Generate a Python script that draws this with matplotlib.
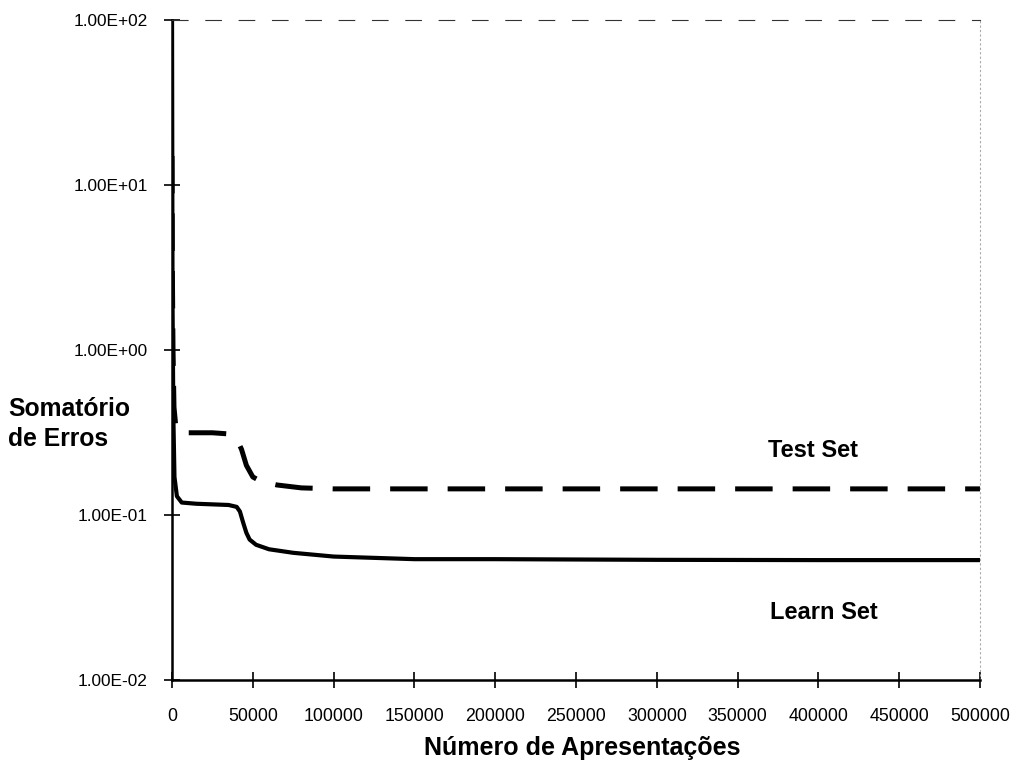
import matplotlib
matplotlib.use("Agg")
import matplotlib.pyplot as plt
from matplotlib.ticker import FuncFormatter, FixedLocator

plt.rcParams['font.family'] = ['Liberation Sans', 'DejaVu Sans']

# training curves
learn_x = [0, 300, 800, 1500, 3000, 6000, 15000, 25000, 35000, 40000, 42000,
           44000, 46000, 48000, 52000, 60000, 75000, 100000, 150000, 200000,
           300000, 400000, 500000]
learn_y = [100, 2.0, 0.4, 0.17, 0.13, 0.119, 0.117, 0.116, 0.115, 0.112, 0.105,
           0.09, 0.078, 0.071, 0.066, 0.062, 0.059, 0.056, 0.054, 0.054,
           0.0535, 0.0533, 0.0533]

test_x = [0, 200, 600, 1200, 2500, 5000, 15000, 25000, 35000, 40000, 43000,
          46000, 50000, 55000, 65000, 80000, 100000, 200000, 300000, 400000,
          500000]
test_y = [15, 3.0, 1.0, 0.45, 0.33, 0.315, 0.315, 0.315, 0.31, 0.29, 0.25,
          0.2, 0.17, 0.16, 0.152, 0.146, 0.144, 0.144, 0.144, 0.144, 0.144]

x_ticks = [0, 50000, 100000, 150000, 200000, 250000, 300000, 350000, 400000,
           450000, 500000]
y_ticks = [1e-2, 1e-1, 1e0, 1e1, 1e2]

fig = plt.figure(figsize=(10.15, 7.67), dpi=100)
ax = fig.add_axes([0.1695, 0.1134, 0.796, 0.8606])

ax.plot(learn_x, learn_y, color='black', lw=3.0, solid_joinstyle='round')
ax.plot(test_x, test_y, color='black', lw=3.6, dashes=(7.5, 4.0))

ax.set_yscale('log')
ax.set_xlim(0, 500000)
ax.set_ylim(1e-2, 1e2)

ax.xaxis.set_major_locator(FixedLocator(x_ticks))
ax.yaxis.set_major_locator(FixedLocator(y_ticks))
ax.yaxis.set_minor_locator(FixedLocator([]))
ax.yaxis.set_major_formatter(FuncFormatter(lambda v, p: '%.2E' % v))
ax.xaxis.set_major_formatter(FuncFormatter(lambda v, p: '%d' % v))
ax.tick_params(direction='inout', length=12, width=1.2, colors='black')
ax.tick_params(axis='y', labelsize=12.4, pad=11.5)
ax.tick_params(axis='x', labelsize=12.8, pad=14.5)

ax.spines['left'].set_linewidth(1.8)
ax.spines['bottom'].set_linewidth(1.8)
ax.spines['top'].set_linestyle((0, (14, 16)))
ax.spines['top'].set_color('#333333')
ax.spines['right'].set_linestyle((0, (1, 3)))
ax.spines['right'].set_color('#aaaaaa')

ax.set_xlabel('Número de Apresentações', fontsize=18, fontweight='bold',
              labelpad=10)
ax.xaxis.set_label_coords(0.508, -0.085)
fig.text(0.008, 0.447, 'Somatório\nde Erros', fontsize=17.8, fontweight='bold',
         ha='left', va='center', linespacing=1.33)

ax.text(369000, 0.245, 'Test Set', fontsize=17, fontweight='bold',
        ha='left', va='center')
ax.text(370000, 0.0255, 'Learn Set', fontsize=17, fontweight='bold',
        ha='left', va='center')

fig.savefig('out.png', dpi=100)
